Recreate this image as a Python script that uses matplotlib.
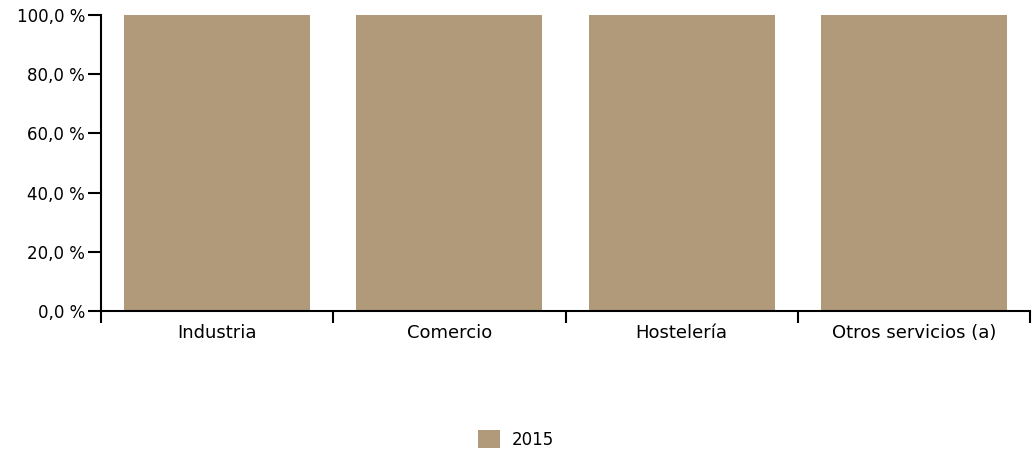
import matplotlib
matplotlib.use("Agg")
import matplotlib.pyplot as plt
from matplotlib.patches import Patch
from matplotlib.ticker import FixedLocator, FuncFormatter

# data
categories = ["Industria", "Comercio", "Hostelería", "Otros servicios (a)"]
values_2015 = [100.0, 100.0, 100.0, 100.0]
y_ticks = [0, 20, 40, 60, 80, 100]
series_label = "2015"

BAR_COLOR = "#b09a7a"

plt.rcParams['font.family'] = ['DejaVu Sans']

fig = plt.figure(figsize=(10.32, 4.53), dpi=100)
ax = fig.add_axes([101 / 1032, 1 - 311 / 453, (1030 - 101) / 1032, (311 - 15) / 453])

x = range(len(categories))
ax.bar(x, values_2015, width=0.8, color=BAR_COLOR, zorder=2)

ax.set_xlim(-0.5, len(categories) - 0.5)
ax.set_ylim(0, 100)

## spines
for side in ("top", "right"):
    ax.spines[side].set_visible(False)
for side in ("left", "bottom"):
    ax.spines[side].set_linewidth(1.5)
    ax.spines[side].set_color("black")

## y ticks
ax.yaxis.set_major_locator(FixedLocator(y_ticks))
ax.yaxis.set_major_formatter(FuncFormatter(lambda v, p: ("%.1f %%" % v).replace(".", ",")))
ax.tick_params(axis="y", length=9.4, width=1.5, labelsize=12, pad=2)

## x: category boundaries get the tick marks, labels sit in between
ax.set_xticks([i - 0.5 for i in range(len(categories) + 1)])
ax.set_xticklabels([])
ax.set_xticks(list(x), minor=True)
ax.set_xticklabels(categories, minor=True, fontsize=13)
ax.tick_params(axis="x", which="major", length=8.6, width=1.5)
ax.tick_params(axis="x", which="minor", length=0, pad=9)

# legend
handles = [Patch(facecolor=BAR_COLOR, edgecolor="none", label=series_label)]
fig.legend(handles=handles, loc="lower center", bbox_to_anchor=(0.5, -0.005), frameon=False,
           fontsize=12, handlelength=1.35, handleheight=1.35, handletextpad=0.7, borderaxespad=0.0)

fig.savefig("out.png", dpi=100)
